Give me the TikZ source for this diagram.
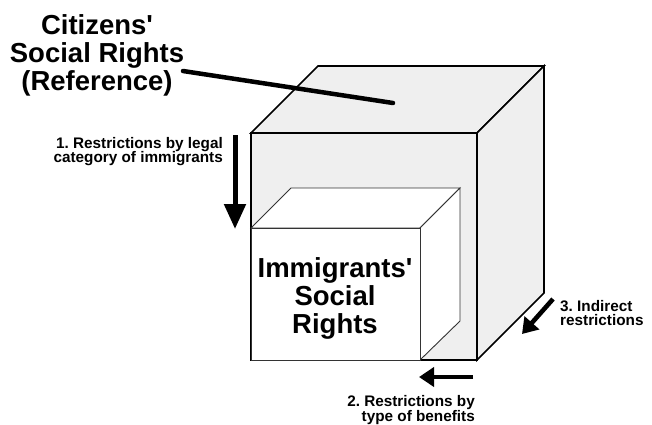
\documentclass[tikz,border=0pt]{standalone}
\usepackage{fontspec}
\setmainfont{Liberation Sans}
\usetikzlibrary{arrows.meta}
\definecolor{cubegray}{HTML}{EFEFEF}
\frenchspacing
\begin{document}
\begin{tikzpicture}[x=1pt,y=-1pt,
  face/.style={fill=cubegray, draw=black, line width=1.6pt, line join=miter},
  innerface/.style={fill=white, draw=black!80, line width=0.9pt, line join=miter},
  bigarrow/.style={line width=5pt, -{Triangle[width=21pt,length=25pt]}},
  smallarrow/.style={line width=4.6pt, -{Triangle[width=19pt,length=15pt]}},
  lbl/.style={font=\bfseries\fontsize{15.3}{14.5}\selectfont, inner sep=0pt},
  bigtext/.style={font=\bfseries\fontsize{27.5}{28}\selectfont, align=center, inner sep=0pt}]
\useasboundingbox (0,0) rectangle (652,424);
% big cube
\coordinate (A) at (251,133);
\coordinate (B) at (477,133);
\coordinate (C) at (477,360);
\coordinate (D) at (251,360);
\coordinate (E) at (318,66);
\coordinate (F) at (544,66);
\coordinate (G) at (544,293);
\draw[face] (A) -- (B) -- (C) -- (D) -- cycle;
\draw[face] (A) -- (E) -- (F) -- (B) -- cycle;
\draw[face] (B) -- (F) -- (G) -- (C) -- cycle;
% inner box
\coordinate (a) at (251,228);
\coordinate (b) at (420,228);
\coordinate (c) at (420,360);
\coordinate (d) at (251,360);
\coordinate (e) at (291,188);
\coordinate (f) at (460,188);
\coordinate (g) at (460,321);
\draw[innerface] (a) -- (e) -- (f) -- (b) -- cycle;
\draw[innerface] (b) -- (f) -- (g) -- (c) -- cycle;
\draw[innerface] (a) -- (b) -- (c) -- (d) -- cycle;
\node[bigtext, anchor=north] (inner) at (335,257) {Immigrants\textquotesingle\\Social\\Rights};
% title and callout
\node[bigtext, anchor=north] (title) at (97,14) {Citizens\textquotesingle\\Social Rights\\(Reference)};
\coordinate (cs) at (183,71);
\coordinate (ce) at (393,103);
\draw[line width=4.5pt, line cap=round] (cs) -- (ce);
% arrow 1
\node[lbl, align=right, anchor=north east] (l1) at (223,137) {1. Restrictions by legal\\category of immigrants};
\coordinate (a1s) at (235,135);
\coordinate (a1e) at (235,229);
\draw[bigarrow] (a1s) -- (a1e);
% arrow 2
\node[lbl, align=right, anchor=north east] (l2) at (475,395.5) {2. Restrictions by\\type of benefits};
\coordinate (a2s) at (473,377);
\coordinate (a2e) at (419,377);
\draw[smallarrow] (a2s) -- (a2e);
% arrow 3
\node[lbl, align=left, anchor=north west] (l3) at (560,300) {3. Indirect\\restrictions};
\coordinate (a3s) at (553,299);
\coordinate (a3e) at (522,334);
\draw[smallarrow] (a3s) -- (a3e);
\end{tikzpicture}
\end{document}
